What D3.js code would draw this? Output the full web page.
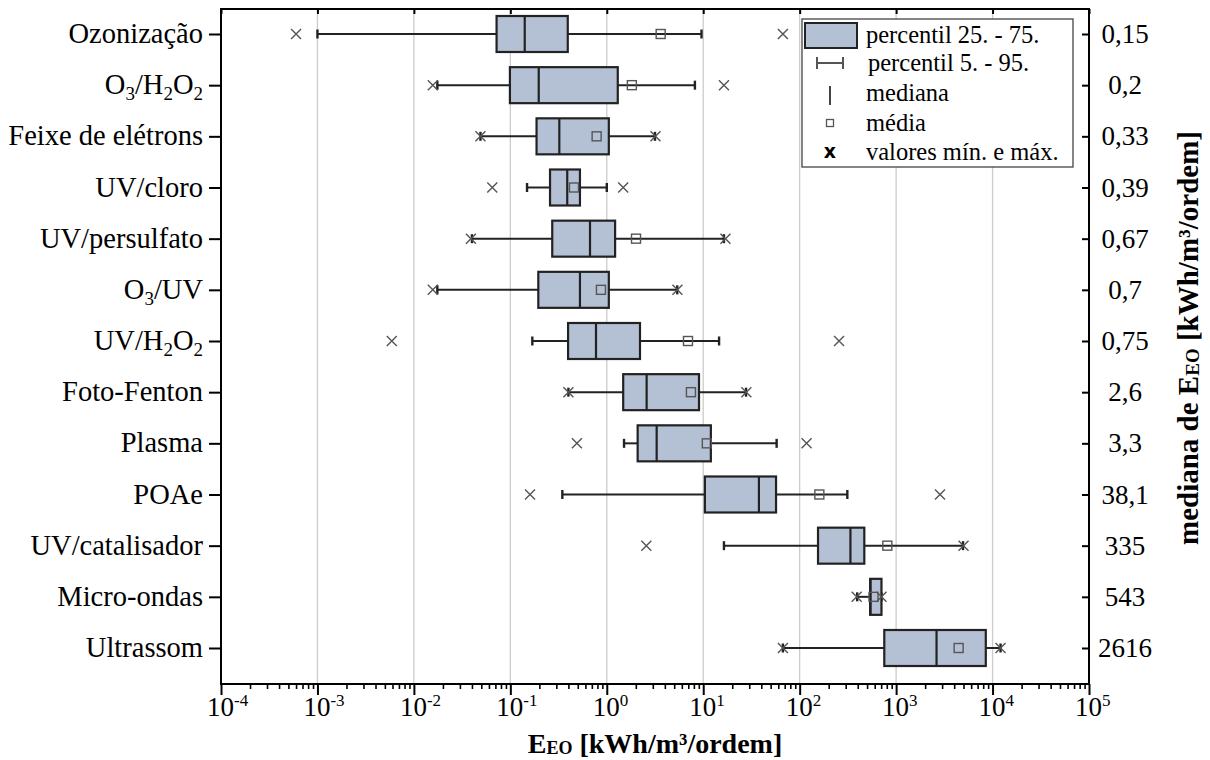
<!DOCTYPE html>
<html>
<head>
<meta charset="utf-8">
<script src="https://cdn.jsdelivr.net/npm/d3@7/dist/d3.min.js"></script>
<style>
  html, body { margin: 0; padding: 0; background: #fff; }
  svg text { font-family: "Liberation Serif", "Times New Roman", serif; fill: #000; }
</style>
</head>
<body>
<svg id="chart" width="1210" height="760"></svg>
<script>
// ---- data ----
const categories = ["Ozonização","O3/H2O2","Feixe de elétrons","UV/cloro","UV/persulfato","O3/UV","UV/H2O2","Foto-Fenton","Plasma","POAe","UV/catalisador","Micro-ondas","Ultrassom"];
const minVals = [0.0006, 0.0157, 0.049, 0.065, 0.039, 0.0157, 0.0059, 0.40, 0.49, 0.16, 2.57, 390, 67];
const p5Vals  = [0.001, 0.0175, 0.049, 0.149, 0.040, 0.0175, 0.169, 0.40, 1.51, 0.346, 16.4, 395, 67];
const q1Vals  = [0.072, 0.099, 0.187, 0.258, 0.272, 0.195, 0.397, 1.48, 2.09, 10.4, 155, 538, 754];
const medianVals = [0.141, 0.197, 0.322, 0.389, 0.67, 0.527, 0.773, 2.59, 3.29, 37.8, 336, 543, 2625];
const q3Vals  = [0.394, 1.30, 1.05, 0.527, 1.22, 1.05, 2.21, 9.04, 12.0, 56.9, 468, 705, 8510];
const meanVals = [3.62, 1.82, 0.785, 0.457, 2.01, 0.87, 6.95, 7.46, 10.9, 160, 811, 583, 4450];
const p95Vals = [9.6, 8.2, 3.16, 1.0, 16.4, 5.38, 14.6, 27.8, 57.7, 312, 4940, 705, 12100];
const maxVals = [67, 16.4, 3.2, 1.48, 17, 5.4, 256, 28, 118, 2850, 5000, 705, 12100];
const medianLabels = ["0,15","0,2","0,33","0,39","0,67","0,7","0,75","2,6","3,3","38,1","335","543","2616"];
const tickExponents = [-4,-3,-2,-1,0,1,2,3,4,5];
const legendLabels = ["percentil 25. - 75.","percentil 5. - 95.","mediana","média","valores mín. e máx."];

// ---- layout ----
const pL = 221, pR = 1089, pT = 9, pB = 684;
const boxFill = "#b4c1d5", dark = "#222", gray = "#555";
const svg = d3.select("#chart");
const x = d3.scaleLog().domain([1e-4, 1e5]).range([pL, pR]);
const y = d3.scalePoint().domain(categories).range([34, 648]);

// gridlines
svg.append("g").selectAll("line").data(tickExponents.slice(1, -1)).join("line")
  .attr("x1", d => x(Math.pow(10, d))).attr("x2", d => x(Math.pow(10, d)))
  .attr("y1", pT).attr("y2", pB)
  .attr("stroke", "#cccccc").attr("stroke-width", 1.3);

// frame
svg.append("rect").attr("x", pL).attr("y", pT).attr("width", pR - pL).attr("height", pB - pT)
  .attr("fill", "none").attr("stroke", "#000").attr("stroke-width", 2);

// bottom axis (major + minor ticks outward)
const majorTicks = tickExponents.map(e => Math.pow(10, e));
const minorTicks = [];
tickExponents.slice(0, -1).forEach(e => { for (let k = 2; k <= 9; k++) minorTicks.push(k * Math.pow(10, e)); });
svg.append("g").attr("transform", `translate(0,${pB})`).call(d3.axisBottom(x).tickValues(majorTicks).tickSize(11).tickFormat(""))
  .call(s => s.select(".domain").remove())
  .call(s => s.selectAll("line").attr("stroke", "#000").attr("stroke-width", 2));
svg.append("g").attr("transform", `translate(0,${pB})`).call(d3.axisBottom(x).tickValues(minorTicks).tickSize(5).tickFormat(""))
  .call(s => s.select(".domain").remove())
  .call(s => s.selectAll("line").attr("stroke", "#000").attr("stroke-width", 1.6));
// top axis inward major ticks
svg.append("g").attr("transform", `translate(0,${pT})`).call(d3.axisBottom(x).tickValues(majorTicks).tickSize(5).tickFormat(""))
  .call(s => s.select(".domain").remove())
  .call(s => s.selectAll("line").attr("stroke", "#000").attr("stroke-width", 2));

// tick labels 10^n
const tl = svg.append("g").selectAll("text").data(tickExponents).join("text")
  .attr("x", d => x(Math.pow(10, d)) - 14).attr("y", 716)
  .attr("font-size", 27);
tl.append("tspan").text("10");
tl.append("tspan").attr("font-size", 17).attr("dy", -10).text(d => d < 0 ? "-" + Math.abs(d) : String(d));

// left axis
svg.append("g").attr("transform", `translate(${pL},0)`).call(d3.axisLeft(y).tickSize(12).tickFormat(""))
  .call(s => s.select(".domain").remove())
  .call(s => s.selectAll("line").attr("stroke", "#000").attr("stroke-width", 2));
// right axis inward ticks
svg.append("g").attr("transform", `translate(${pR},0)`).call(d3.axisLeft(y).tickSize(7).tickFormat(""))
  .call(s => s.select(".domain").remove())
  .call(s => s.selectAll("line").attr("stroke", "#000").attr("stroke-width", 2));

// category labels with subscripts
function richLabel(sel, str, subSize) {
  const parts = str.split(/(\d+)/).filter(s => s.length);
  let sub = false;
  parts.forEach(p => {
    if (/^\d+$/.test(p)) {
      sel.append("tspan").attr("font-size", subSize).attr("dy", sub ? 0 : 6).text(p);
      sub = true;
    } else {
      sel.append("tspan").attr("dy", sub ? -6 : 0).text(p);
      sub = false;
    }
  });
}
svg.append("g").selectAll("text").data(categories).join("text")
  .attr("x", 203).attr("y", d => y(d) + 9).attr("text-anchor", "end").attr("font-size", 28.5)
  .each(function (d) { richLabel(d3.select(this), d, 19); });

// right median labels
svg.append("g").selectAll("text").data(categories).join("text")
  .attr("x", 1125).attr("y", d => y(d) + 9).attr("text-anchor", "middle").attr("font-size", 27)
  .text((d, i) => medianLabels[i]);

// ---- boxes ----
const bh = 36, capH = 9;
const bg = svg.append("g").selectAll("g").data(categories).join("g");
bg.append("line").attr("x1", (d, i) => x(p5Vals[i])).attr("x2", (d, i) => x(q1Vals[i]))
  .attr("y1", d => y(d)).attr("y2", d => y(d)).attr("stroke", dark).attr("stroke-width", 2);
bg.append("line").attr("x1", (d, i) => x(q3Vals[i])).attr("x2", (d, i) => x(p95Vals[i]))
  .attr("y1", d => y(d)).attr("y2", d => y(d)).attr("stroke", dark).attr("stroke-width", 2);
bg.append("line").attr("x1", (d, i) => x(p5Vals[i])).attr("x2", (d, i) => x(p5Vals[i]))
  .attr("y1", d => y(d) - capH / 2).attr("y2", d => y(d) + capH / 2).attr("stroke", dark).attr("stroke-width", 2.4);
bg.append("line").attr("x1", (d, i) => x(p95Vals[i])).attr("x2", (d, i) => x(p95Vals[i]))
  .attr("y1", d => y(d) - capH / 2).attr("y2", d => y(d) + capH / 2).attr("stroke", dark).attr("stroke-width", 2.4);
bg.append("rect").attr("x", (d, i) => x(q1Vals[i])).attr("width", (d, i) => x(q3Vals[i]) - x(q1Vals[i]))
  .attr("y", d => y(d) - bh / 2).attr("height", bh)
  .attr("fill", boxFill).attr("stroke", dark).attr("stroke-width", 2.2);
bg.append("line").attr("x1", (d, i) => x(medianVals[i])).attr("x2", (d, i) => x(medianVals[i]))
  .attr("y1", d => y(d) - bh / 2).attr("y2", d => y(d) + bh / 2).attr("stroke", dark).attr("stroke-width", 2.2);
bg.append("rect").attr("x", (d, i) => x(meanVals[i]) - 4.5).attr("y", d => y(d) - 4.5)
  .attr("width", 9).attr("height", 9).attr("fill", "none").attr("stroke", gray).attr("stroke-width", 1.4);
function xMark(vals) {
  bg.append("path").attr("d", (d, i) => {
    const cx = x(vals[i]), cy = y(d), s = 5;
    return `M${cx - s},${cy - s}L${cx + s},${cy + s}M${cx - s},${cy + s}L${cx + s},${cy - s}`;
  }).attr("stroke", gray).attr("stroke-width", 1.4).attr("fill", "none");
}
xMark(minVals); xMark(maxVals);

// ---- legend ----
const lg = svg.append("g");
lg.append("rect").attr("x", 802).attr("y", 19).attr("width", 271).attr("height", 148)
  .attr("fill", "#fff").attr("stroke", "#444").attr("stroke-width", 1.3);
lg.append("rect").attr("x", 805).attr("y", 23).attr("width", 52).attr("height", 25)
  .attr("fill", boxFill).attr("stroke", dark).attr("stroke-width", 2);
lg.append("line").attr("x1", 817).attr("x2", 843).attr("y1", 63).attr("y2", 63).attr("stroke", gray).attr("stroke-width", 2);
lg.append("line").attr("x1", 817).attr("x2", 817).attr("y1", 57).attr("y2", 69).attr("stroke", gray).attr("stroke-width", 2);
lg.append("line").attr("x1", 843).attr("x2", 843).attr("y1", 57).attr("y2", 69).attr("stroke", gray).attr("stroke-width", 2);
lg.append("line").attr("x1", 830).attr("x2", 830).attr("y1", 86).attr("y2", 105).attr("stroke", "#444").attr("stroke-width", 2);
lg.append("rect").attr("x", 826.5).attr("y", 119.5).attr("width", 7).attr("height", 7).attr("fill", "none").attr("stroke", gray).attr("stroke-width", 1.3);
lg.append("text").attr("x", 830).attr("y", 158).attr("text-anchor", "middle").attr("font-size", 19)
  .style("font-family", "'DejaVu Sans', sans-serif").attr("font-weight", "bold").text("x");
const legY = [43, 71, 101, 131, 160];
lg.selectAll("text.lt").data(legendLabels).join("text").attr("class", "lt")
  .attr("x", (d, i) => i === 1 ? 868 : 866).attr("y", (d, i) => legY[i]).attr("font-size", 24.5).text(d => d);

// ---- axis titles ----
const xt = svg.append("text").attr("x", 655).attr("y", 753).attr("text-anchor", "middle")
  .attr("font-size", 28).attr("font-weight", "bold");
xt.append("tspan").text("E");
xt.append("tspan").attr("font-size", 18).attr("dy", 1).text("EO");
xt.append("tspan").attr("dy", -1).text(" [kWh/m³/ordem]");

const yt = svg.append("text").attr("transform", "translate(1198,338) rotate(-90)").attr("text-anchor", "middle")
  .attr("font-size", 29).attr("font-weight", "bold");
yt.append("tspan").text("mediana de E");
yt.append("tspan").attr("font-size", 19).attr("dy", 1).text("EO");
yt.append("tspan").attr("dy", -1).text(" [kWh/m³/ordem]");
</script>
</body>
</html>
